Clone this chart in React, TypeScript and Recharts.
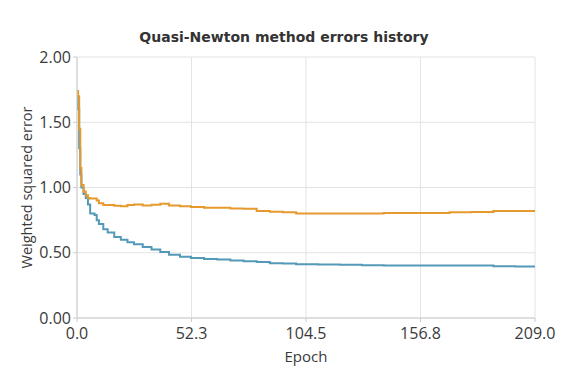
import { LineChart, Line, XAxis, YAxis, CartesianGrid } from 'recharts';

const epochs = [0, 0.5, 1, 1.5, 2, 3, 4, 5, 6, 8, 9, 10, 12, 14, 17, 20, 23, 26, 30, 34, 38, 42, 47, 52, 58, 64, 70, 76, 82, 88, 94, 100, 110, 120, 130, 140, 150, 160, 170, 180, 190, 200, 209];

const trainingError = [1.70, 1.60, 1.30, 1.10, 1.00, 0.95, 0.92, 0.87, 0.80, 0.79, 0.75, 0.72, 0.68, 0.655, 0.62, 0.60, 0.58, 0.565, 0.545, 0.525, 0.505, 0.485, 0.47, 0.46, 0.452, 0.448, 0.44, 0.435, 0.43, 0.42, 0.418, 0.412, 0.41, 0.408, 0.405, 0.403, 0.403, 0.403, 0.402, 0.402, 0.396, 0.395, 0.395];

const selectionError = [1.74, 1.70, 1.45, 1.15, 1.02, 0.97, 0.94, 0.92, 0.915, 0.915, 0.90, 0.88, 0.865, 0.865, 0.86, 0.856, 0.865, 0.87, 0.862, 0.868, 0.875, 0.862, 0.856, 0.85, 0.845, 0.845, 0.84, 0.838, 0.82, 0.815, 0.81, 0.80, 0.80, 0.80, 0.80, 0.805, 0.805, 0.805, 0.81, 0.812, 0.82, 0.82, 0.82];

const xTickValues = [0, 52.25, 104.5, 156.75, 209];
const xTickLabels = ['0.0', '52.3', '104.5', '156.8', '209.0'];
const yTickValues = [0, 0.5, 1, 1.5, 2];

const data = epochs.map((e, i) => ({ epoch: e, training: trainingError[i], selection: selectionError[i] }));

const titleFont = '"DejaVu Sans", sans-serif';
const font = '"Open Sans", sans-serif';

export default function App() {
  return (
    <div style={{ position: 'relative', width: 560, height: 372, fontFamily: font }}>
      <div
        style={{
          position: 'absolute',
          top: 21,
          left: 0,
          width: 552,
          textAlign: 'center',
          fontWeight: 'bold',
          fontSize: 14,
          fontFamily: titleFont,
          color: '#333',
        }}
      >
        Quasi-Newton method errors history
      </div>
      <LineChart width={560} height={372} data={data} margin={{ top: 49, right: 33, left: 0, bottom: 0 }}>
        <CartesianGrid stroke="#e3e3e3" />
        <XAxis
          dataKey="epoch"
          type="number"
          domain={[0, 209]}
          ticks={xTickValues}
          tickFormatter={(v: number) => xTickLabels[xTickValues.indexOf(v)] ?? String(v)}
          height={62}
          stroke="#cccccc"
          tickSize={4}
          tickMargin={6}
          tick={{ fill: '#3a3a3a', fontSize: 16, fontFamily: font }}
          label={{ value: 'Epoch', position: 'insideBottom', offset: 18, fill: '#3a3a3a', fontSize: 15, fontFamily: font }}
        />
        <YAxis
          type="number"
          domain={[0, 2]}
          ticks={yTickValues}
          tickFormatter={(v: number) => v.toFixed(2)}
          width={69}
          stroke="#cccccc"
          tickSize={4}
          tick={{ fill: '#3a3a3a', fontSize: 16, fontFamily: font }}
          label={{
            value: 'Weighted squared error',
            angle: -90,
            position: 'insideLeft',
            offset: 19,
            fill: '#3a3a3a',
            fontSize: 14.5,
            fontFamily: font,
            style: { textAnchor: 'middle' },
          }}
        />
        <Line type="stepAfter" dataKey="training" stroke="#5499b8" strokeWidth={2} dot={false} isAnimationActive={false} />
        <Line type="stepAfter" dataKey="selection" stroke="#e69a2e" strokeWidth={2} dot={false} isAnimationActive={false} />
      </LineChart>
    </div>
  );
}
